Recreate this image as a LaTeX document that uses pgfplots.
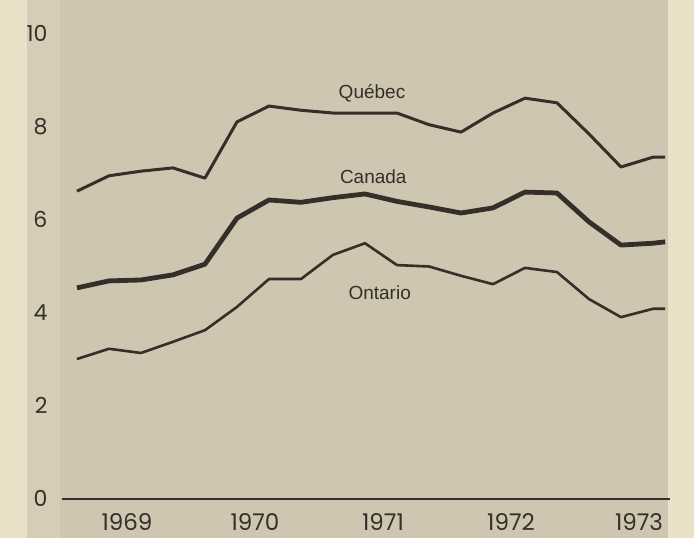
\documentclass[border=0pt]{standalone}
\usepackage{fontspec}
\setmainfont{Liberation Sans}
\newfontfamily\tickfont{Poppins}
\usepackage{pgfplots}
\pgfplotsset{compat=1.18}
\definecolor{pagebg}{RGB}{233,224,200}
\definecolor{stripbg}{RGB}{214,205,182}
\definecolor{panelbg}{RGB}{206,198,177}
\definecolor{ink}{RGB}{52,47,40}
\begin{document}
\begin{tikzpicture}
\fill[pagebg] (0pt,0pt) rectangle (694pt,538pt);
\fill[stripbg] (27pt,0pt) rectangle (62pt,538pt);
\fill[panelbg] (60pt,0pt) rectangle (668pt,538pt);
\begin{axis}[
  at={(62pt,0pt)}, anchor=south west,
  scale only axis, width=608pt, height=538pt,
  xmin=1969.008, xmax=1973.758,
  ymin=-0.839, ymax=10.731,
  axis x line=middle, axis y line*=left,
  x axis line style={ink, line width=2pt, -},
  y axis line style={draw=none},
  xtick={1969.5,1970.5,1971.5,1972.5,1973.5},
  xticklabels={1969,1970,1971,1972,1973},
  ytick={0,2,4,6,8,10},
  major tick length=0pt,
  /pgf/number format/assume math mode=true,
  xticklabel style={font=\tickfont\fontsize{23}{26}\selectfont, text=ink, text height=16pt, text depth=0pt, anchor=north, yshift=-12pt, xshift=2pt},
  yticklabel style={font=\tickfont\fontsize{22}{26}\selectfont, text=ink, text height=16pt, text depth=0pt, anchor=east, xshift=-11pt},
  clip=false,
]
\addplot[ink, line width=3pt, line join=round] coordinates {
(1969.125,6.62) (1969.375,6.95) (1969.625,7.05) (1969.875,7.12) (1970.125,6.90)
(1970.375,8.11) (1970.625,8.45) (1970.875,8.36) (1971.125,8.30) (1971.375,8.30)
(1971.625,8.30) (1971.875,8.05) (1972.125,7.89) (1972.375,8.30) (1972.625,8.62)
(1972.875,8.52) (1973.125,7.85) (1973.375,7.14) (1973.625,7.35) (1973.72,7.35)};
\addplot[ink, line width=4.8pt, line join=round] coordinates {
(1969.125,4.54) (1969.375,4.69) (1969.625,4.71) (1969.875,4.82) (1970.125,5.05)
(1970.375,6.04) (1970.625,6.43) (1970.875,6.38) (1971.125,6.48) (1971.375,6.56)
(1971.625,6.40) (1971.875,6.28) (1972.125,6.15) (1972.375,6.26) (1972.625,6.60)
(1972.875,6.58) (1973.125,5.96) (1973.375,5.46) (1973.625,5.50) (1973.72,5.53)};
\addplot[ink, line width=2.6pt, line join=round] coordinates {
(1969.125,3.01) (1969.375,3.23) (1969.625,3.14) (1969.875,3.38) (1970.125,3.63)
(1970.375,4.13) (1970.625,4.73) (1970.875,4.73) (1971.125,5.25) (1971.375,5.50)
(1971.625,5.03) (1971.875,5.00) (1972.125,4.80) (1972.375,4.62) (1972.625,4.97)
(1972.875,4.88) (1973.125,4.30) (1973.375,3.91) (1973.625,4.09) (1973.72,4.09)};
\node[text=ink, font=\fontsize{19}{22}\selectfont] at (axis cs:1971.43,8.73) {Québec};
\node[text=ink, font=\fontsize{19}{22}\selectfont] at (axis cs:1971.44,6.92) {Canada};
\node[text=ink, font=\fontsize{19}{22}\selectfont] at (axis cs:1971.49,4.43) {Ontario};
\end{axis}
\end{tikzpicture}
\end{document}
